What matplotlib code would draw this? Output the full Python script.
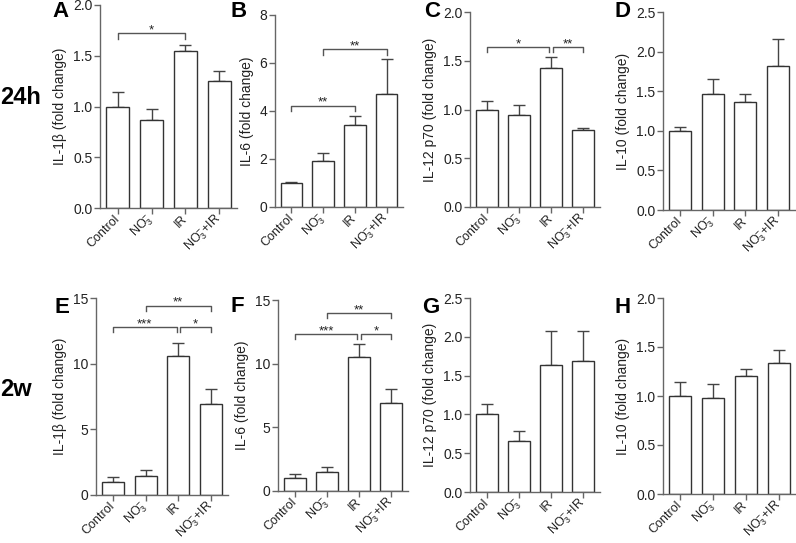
import numpy as np
import matplotlib
matplotlib.use('Agg')
import matplotlib.pyplot as plt

plt.rcParams['font.family'] = ['Liberation Sans', 'DejaVu Sans']
plt.rcParams['mathtext.fontset'] = 'custom'
plt.rcParams['mathtext.rm'] = 'Liberation Sans'
plt.rcParams['mathtext.it'] = 'Liberation Sans:italic'
plt.rcParams['mathtext.bf'] = 'Liberation Sans:bold'

# groups
categories = ['Control', r'NO$_3^{-}$', 'IR', r'NO$_3^{-}$+IR']

# 24 h (mean fold change, upper SEM)
il1b_24h = [1.00, 0.87, 1.55, 1.25]
il1b_24h_err = [0.14, 0.11, 0.06, 0.10]
il6_24h = [1.00, 1.90, 3.40, 4.72]
il6_24h_err = [0.05, 0.34, 0.38, 1.43]
il12_24h = [1.00, 0.94, 1.43, 0.79]
il12_24h_err = [0.09, 0.11, 0.11, 0.02]
il10_24h = [1.00, 1.46, 1.36, 1.82]
il10_24h_err = [0.05, 0.19, 0.10, 0.34]

# 2 weeks
il1b_2w = [1.00, 1.46, 10.60, 6.90]
il1b_2w_err = [0.34, 0.46, 0.97, 1.20]
il6_2w = [1.00, 1.47, 10.55, 6.89]
il6_2w_err = [0.31, 0.44, 1.00, 1.15]
il12_2w = [1.01, 0.66, 1.64, 1.69]
il12_2w_err = [0.13, 0.13, 0.43, 0.38]
il10_2w = [1.00, 0.98, 1.20, 1.34]
il10_2w_err = [0.14, 0.14, 0.08, 0.125]

# significance brackets: (group i, group j, bracket height, label)
sig_a = [(0, 2, 1.72, '*')]
sig_b = [(0, 2, 4.22, '**'), (1, 3, 6.57, '**')]
sig_c = [(0, 2, 1.64, '*'), (2, 3, 1.64, '**')]
sig_e = [(0, 2, 12.78, '***'), (2, 3, 12.78, '*'), (1, 3, 14.40, '**')]
sig_f = [(0, 2, 12.33, '***'), (2, 3, 12.33, '*'), (1, 3, 13.96, '**')]

W, H = 796, 543
fig = plt.figure(figsize=(W / 100, H / 100), dpi=100)


def rect(l, t, r, b):
    return [l / W, 1 - b / H, (r - l) / W, (b - t) / H]


panels = [
    ('A', (52, 1), rect(100, 5, 237, 208), il1b_24h, il1b_24h_err, 'IL-1β (fold change)', 2.0, 0.5, sig_a),
    ('B', (231, 1), rect(275, 15, 403, 207), il6_24h, il6_24h_err, 'IL-6 (fold change)', 8, 2, sig_b),
    ('C', (424, 1), rect(470, 12, 600, 207), il12_24h, il12_24h_err, 'IL-12 p70 (fold change)', 2.0, 0.5, sig_c),
    ('D', (615, 1), rect(663, 12, 795, 210), il10_24h, il10_24h_err, 'IL-10 (fold change)', 2.5, 0.5, []),
    ('E', (54, 297), rect(96, 298, 228, 495), il1b_2w, il1b_2w_err, 'IL-1β (fold change)', 15, 5, sig_e),
    ('F', (231, 296), rect(278, 300, 408, 491), il6_2w, il6_2w_err, 'IL-6 (fold change)', 15, 5, sig_f),
    ('G', (422, 297), rect(470, 298, 600, 492), il12_2w, il12_2w_err, 'IL-12 p70 (fold change)', 2.5, 0.5, []),
    ('H', (615, 297), rect(663, 298, 796, 494), il10_2w, il10_2w_err, 'IL-10 (fold change)', 2.0, 0.5, []),
]

axis_col = '#666666'
x = np.arange(len(categories))

for letter, (lx, ly), r, vals, errs, ylabel, ymax, step, sigs in panels:
    ax = fig.add_axes(r)
    ax.bar(x, vals, width=0.68, color='white', edgecolor='#333333', linewidth=1.0, zorder=2)
    ax.errorbar(x, vals, yerr=[np.zeros(len(vals)), errs], fmt='none', ecolor='#444444',
                elinewidth=1.0, capsize=4.3, capthick=1.0, zorder=1)

    ax.set_xlim(-0.52, 3.52)
    ax.set_ylim(0, ymax)
    yt = np.arange(0, ymax + step / 2, step)
    ax.set_yticks(yt)
    if step < 1:
        ax.set_yticklabels(['%.1f' % v for v in yt])
    else:
        ax.set_yticklabels(['%d' % v for v in yt])
    ax.set_xticks(x)
    ax.set_xticklabels(categories, rotation=45, ha='right', va='center', rotation_mode='anchor')
    ax.set_ylabel(ylabel, fontsize=10, color='#222222', labelpad=4)

    for s in ['top', 'right']:
        ax.spines[s].set_visible(False)
    for s in ['left', 'bottom']:
        ax.spines[s].set_color(axis_col)
        ax.spines[s].set_linewidth(1.0)
    ax.tick_params(direction='out', length=4, width=1, color=axis_col, labelsize=10,
                   labelcolor='#222222')
    ax.tick_params(axis='x', pad=2.5, labelsize=9)
    ax.tick_params(axis='y', pad=1.5)

    d = 0.027 * ymax
    for i, j, h, lab in sigs:
        x1, x2 = float(i), float(j)
        # nudge ends apart where two brackets meet at the same height
        for i2, j2, h2, _ in sigs:
            if h2 == h and (i2, j2) != (i, j):
                if j == i2:
                    x2 -= 0.05
                if i == j2:
                    x1 += 0.05
        ax.plot([x1, x1, x2, x2], [h - d, h, h, h - d], color='#555555', lw=1.0,
                clip_on=False, zorder=3)
        ax.text((x1 + x2) / 2, h, lab, ha='center', va='baseline', fontsize=9.5, color='#222222')

    fig.text(lx / W, 1 - ly / H, letter, fontsize=16, fontweight='bold', ha='left', va='top')

fig.text(0, 1 - 98 / H, '24h', fontsize=17, fontweight='bold', ha='left', va='center')
fig.text(0, 1 - 390 / H, '2w', fontsize=17, fontweight='bold', ha='left', va='center')

fig.savefig('out.png', dpi=100)
